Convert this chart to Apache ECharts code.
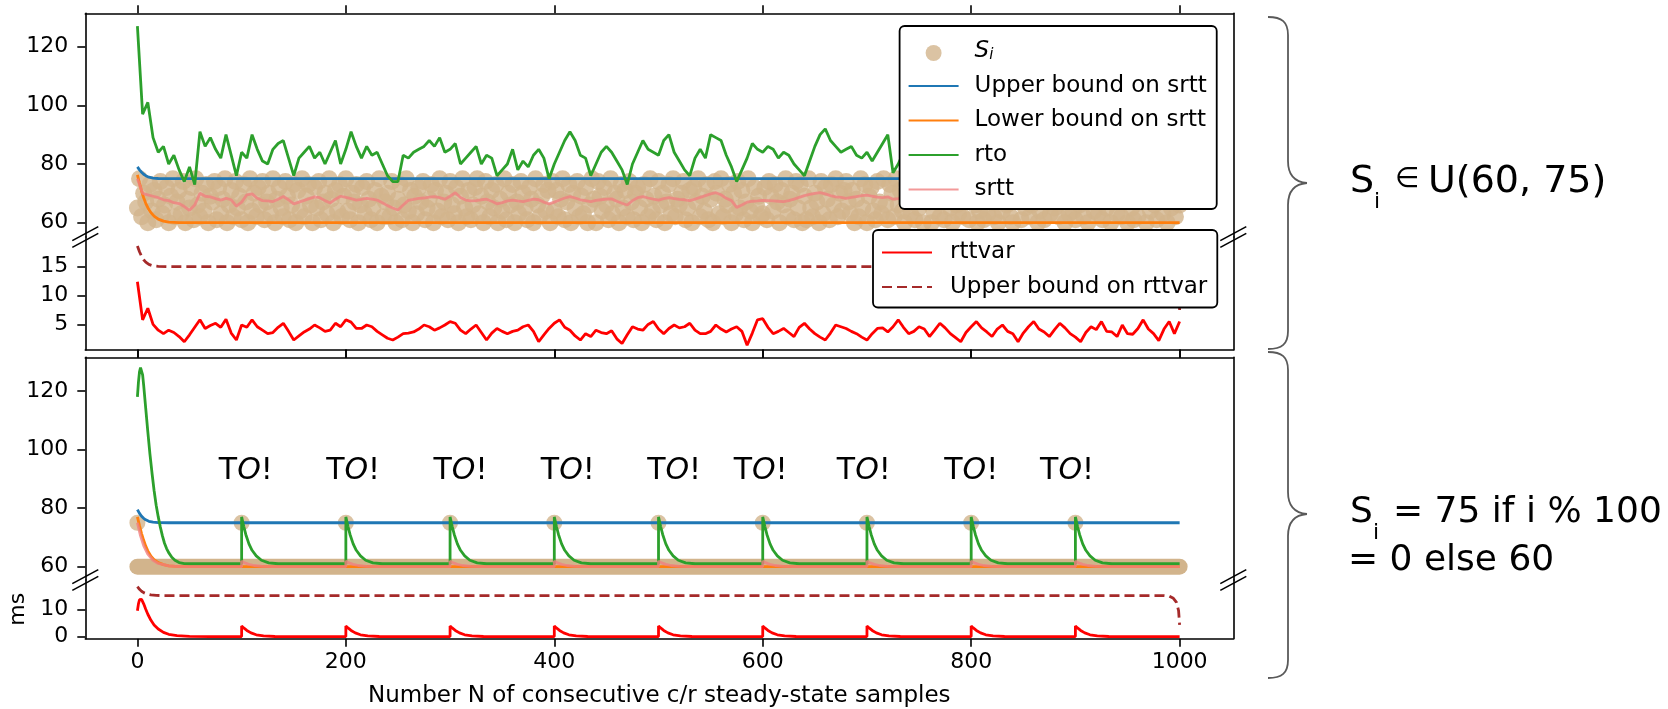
<!DOCTYPE html>
<html>
<head>
<meta charset="utf-8">
<script src="https://cdn.jsdelivr.net/npm/echarts@6.0.0/dist/echarts.min.js"></script>
<style>
html, body { margin: 0; padding: 0; background: #fff; }
#chart { width: 1668px; height: 709px; }
</style>
</head>
<body>
<div id="chart"></div>
<script>
// x ticks shared by every panel
var xTicks = [0, 200, 400, 600, 800, 1000];

// ---- top panel: S_i uniform in (60, 75) ----
var stepTop = 5; // rto / srtt / rttvar sampled every 5 samples
var rtoTop = [
  127, 97, 101, 89, 84, 86, 80, 83, 78, 74,
  79, 73, 91, 86, 89, 85, 82, 90, 83, 76,
  84, 82, 90, 85, 81, 80, 85, 87, 88, 82,
  76, 82, 84, 86, 82, 84, 80, 84, 88, 80,
  85, 91, 86, 82, 86, 83, 84, 80, 76, 74,
  74, 83, 82, 84, 85, 86, 88, 86, 89, 84,
  85, 87, 80, 82, 84, 86, 80, 83, 82, 76,
  78, 80, 85, 78, 81, 79, 83, 85, 82, 75,
  80, 84, 88, 91, 88, 83, 82, 76, 80, 84,
  86, 84, 81, 78, 73, 80, 84, 88, 85, 84,
  83, 88, 90, 84, 81, 78, 76, 82, 85, 82,
  90, 89, 88, 83, 79, 74, 78, 82, 87, 85,
  84, 86, 85, 82, 84, 83, 80, 78, 76, 81,
  86, 90, 92, 88, 86, 84, 85, 86, 83, 82,
  84, 81, 84, 87, 90, 77, 80, 84, 88, 86,
  82, 85, 90, 87, 83, 80, 78, 84, 86, 89,
  85, 82, 80, 76, 81, 85, 88, 86, 84, 82,
  85, 87, 83, 79, 82, 86, 90, 88, 84, 81,
  78, 83, 86, 85, 82, 80, 84, 88, 86, 83,
  80, 77, 82, 85, 88, 84, 81, 86, 84, 80,
  83
];
var srttTop = [
  75, 70, 69.5, 69, 68.5, 67.8, 67.5, 66.8, 66.5, 65.5,
  64.2, 66, 70, 69, 68.8, 68.2, 67.7, 68.3, 67.8, 65.6,
  67, 69.5, 69.8, 68.3, 67.5, 67.4, 67.2, 68, 68.9, 67.8,
  66.4, 67, 67.6, 68.2, 68.8, 68.5, 67.5, 66.7, 68, 69,
  68.6, 68.2, 67.7, 67.9, 68.3, 68, 67.7, 66.8, 65.8, 65,
  64.3, 66, 67.6, 67.9, 68.3, 68.4, 68.7, 68.9, 68.5, 68,
  69, 70.2, 68.6, 67.7, 67.4, 67.5, 67.8, 68, 67.3, 66.4,
  66.8, 67.4, 67.7, 67.4, 67.2, 67.6, 68, 67.8, 67, 66.4,
  67, 67.7, 68.4, 68.9, 68.4, 67.8, 67.5, 67.2, 67.6, 67.8,
  68, 68.1, 67.3, 66.6, 66, 67.5, 68.5, 68.9, 68.4, 68,
  67.7, 68.2, 68.5, 68.2, 67.9, 67.8, 67.5, 68, 68.6, 69.2,
  69.8, 70.2, 69.5, 68.3, 67.5, 65.2, 66, 67, 67.3, 67.4,
  67.6, 67.5, 67.4, 67.3, 67.2, 67.5, 68, 68.6, 69.2, 69.6,
  70, 70.2, 69.8, 69.2, 68.8, 68.6, 68.3, 68.6, 68.9, 69.2,
  69.4, 69, 68.7, 68.5, 68.8, 68, 68.2, 68.5, 69, 68.7,
  68.2, 68.4, 69.1, 69.3, 68.8, 68, 67.5, 67.9, 68.3, 68.8,
  68.6, 68, 67.6, 67, 67.4, 68, 68.6, 68.4, 68.1, 67.8,
  68.2, 68.6, 68.2, 67.6, 67.8, 68.4, 69.2, 69, 68.5, 67.9,
  67.4, 67.8, 68.3, 68.2, 67.8, 67.5, 68, 68.7, 68.5, 68,
  67.6, 67, 67.6, 68.2, 68.7, 68.3, 67.9, 68.4, 68.3, 67.8,
  67.9
];
var rttvarTop = [
  12.4, 5.8, 7.8, 5, 4, 3.4, 4, 3.6, 2.9, 2,
  3.2, 4.5, 5.8, 4.3, 4.8, 5.2, 4.5, 5.9, 3.5, 2.3,
  4.9, 4.5, 5.8, 4.6, 4, 3.4, 3.6, 4.5, 5.2, 3.8,
  2.3, 3, 3.7, 4.2, 4.9, 4.4, 3.8, 4, 5.2, 4.6,
  5.8, 5.4, 4.3, 4.3, 4.9, 4.6, 3.8, 3.2, 2.6, 2.3,
  2.8, 3.4, 3.5, 3.7, 4.2, 4.9, 4.6, 4, 4.4, 4.9,
  5.5, 5.2, 4, 3.4, 4.2, 4.9, 3.6, 2.3, 3.5, 4.3,
  3.8, 3.4, 3.8, 4, 4.6, 4.9, 3.8, 2, 3.2, 4.3,
  5.2, 5.8, 4.5, 4, 3, 2.3, 3.4, 2.9, 4, 3.6,
  3.4, 3.9, 2.5, 1.7, 3.2, 4.6, 4.2, 4, 5, 5.5,
  4.2, 3.4, 4.3, 4.9, 4.4, 4.6, 5.2, 4, 3.4, 3.4,
  3.8, 4.9, 4.2, 3.7, 4.2, 4.6, 3.8, 1.4, 3.5, 5.8,
  6, 4.5, 3.4, 3.8, 4.3, 3.6, 2.9, 4.5, 5.2, 4.2,
  3.4, 2.8, 2.3, 3.5, 4.9, 4.6, 4.3, 3.8, 3.4, 2.8,
  2.3, 3.4, 4.3, 4.4, 3.7, 4.6, 5.8, 4.5, 3.4, 3.8,
  4.6, 4.2, 2.9, 4, 5.2, 4.4, 3.4, 2.7, 2, 3.6,
  4.6, 5.5, 4.4, 3.7, 2.9, 4.2, 4.9, 3.8, 3.4, 2,
  3.5, 4.6, 5.5, 4.2, 3.7, 2.9, 4.1, 5.2, 4.4, 3.4,
  2.8, 2, 3.6, 4.6, 4.1, 5.5, 3.8, 3.7, 2.9, 4.9,
  3.4, 3.3, 4.3, 5.8, 4.2, 3.4, 2.2, 4.2, 5.5, 3.4,
  5.5
];
var stepSi = 2; // S_i samples drawn every 2 samples
var siTop = [
  65,75,62,70,67,60,73,64,71,61,68,74,63,66,72,60,69,75,62,67,
  71,63,74,60,68,65,72,61,75,66,62,70,64,73,60,69,67,74,61,72,
  63,68,75,60,66,71,62,74,65,69,61,73,67,60,75,64,70,62,72,66,
  74,61,67,70,63,75,60,68,72,65,62,74,69,61,66,73,60,71,64,75,
  62,69,73,66,60,72,65,74,61,67,70,63,75,68,60,71,64,73,62,69,
  75,64,61,70,67,73,60,66,72,63,74,68,61,65,71,60,75,69,62,67,
  70,62,74,65,60,68,73,61,66,75,64,71,60,69,63,72,67,74,61,65,
  68,73,60,71,64,75,62,67,70,61,74,66,63,72,60,69,75,65,62,71,
  61,66,72,75,63,69,60,74,67,62,71,65,73,60,68,64,75,61,70,66,
  73,60,67,63,74,70,65,61,72,68,60,75,66,62,69,73,64,71,60,74,
  64,71,62,68,75,61,67,73,60,70,65,74,62,69,63,72,60,66,75,68,
  60,74,69,64,72,66,61,75,63,70,68,60,73,65,71,62,74,67,61,70,
  72,65,60,73,68,62,75,64,69,61,74,66,70,60,67,73,63,75,62,68,
  66,70,74,61,65,71,60,72,67,75,62,69,64,73,61,68,60,74,70,63,
  75,62,68,66,73,60,70,63,74,65,71,61,67,75,64,60,72,66,69,62,
  63,72,61,74,69,64,73,67,60,71,66,75,62,68,70,61,74,65,73,60,
  69,61,75,65,62,70,67,60,74,63,72,68,61,73,66,75,62,70,64,71,
  74,67,63,71,60,68,62,75,65,73,60,69,72,64,61,74,67,63,75,66,
  61,73,70,62,75,66,71,64,60,68,74,63,70,61,72,65,75,60,67,73,
  67,60,64,75,70,62,74,61,69,72,65,60,73,66,63,71,62,75,68,61,
  72,75,66,60,64,73,61,70,63,75,67,62,74,60,69,64,71,66,73,62,
  60,68,73,67,61,74,65,72,62,66,75,70,60,64,73,61,68,74,63,70,
  65,71,62,74,68,60,75,63,71,64,61,73,66,75,62,70,60,67,72,64,
  73,63,69,61,72,65,70,60,74,67,63,71,62,68,75,60,73,65,61,69,
  62,74,67,70,60,71,64,73,66,61,75,68,63,72,60,74,65,70,62,67,
  66
];
var ubSrttTop = [[0,79],[2,78],[4,77.2],[6,76.5],[8,76],[11,75.5],[15,75.2],[20,75.05],[30,75],[1000,75]];
var lbSrttTop = [[0,76.3],[2,73.5],[4,70.8],[6,68.5],[8,66.6],[10,65.1],[13,63.4],[16,62.2],[20,61.2],[25,60.5],[30,60.2],[40,60],[1000,60]];
var ubRttvarTop = [[0,18.6],[2,17.6],[4,16.8],[6,16.2],[8,15.8],[11,15.4],[15,15.15],[20,15.05],[30,15],[985,15],[990,14.8],[994,14],[997,12.5],[999,10],[1000,7.5]];

// ---- bottom panel: S_i = 75 if i % 100 == 0 else 60 ----
var siBand = [[0, 60], [1000, 60]];
var siPeaks = [[0,75],[100,75],[200,75],[300,75],[400,75],[500,75],[600,75],[700,75],[800,75],[900,75]];
var ubSrttBottom = [[0,79.5],[2,78.2],[4,77.2],[6,76.5],[8,76],[11,75.5],[15,75.2],[20,75.05],[30,75],[1000,75]];
var lbSrttBottom = [[0,77],[2,74],[4,71.3],[6,69],[8,67],[10,65.4],[13,63.6],[16,62.4],[20,61.4],[25,60.7],[30,60.3],[40,60.05],[1000,60]];
var rtoBottom = [
  [0,118],[1,123],[2,126.5],[3,128],[4,127.5],[5,125.5],[6,122],[8,114],[10,106],[12,98.5],[14,92],[16,86],[18,81],[20,77],
  [22,73.5],[24,70.5],[26,68],[28,66.2],[30,64.8],[33,63.2],[36,62.2],[40,61.4],[45,61.05],[50,61],
  [100,61],[100,77],[102,73.8],[104,71],[107,67.8],[110,65.6],[114,63.7],[119,62.2],[126,61.3],[135,61],
  [200,61],[200,77],[202,73.8],[204,71],[207,67.8],[210,65.6],[214,63.7],[219,62.2],[226,61.3],[235,61],
  [300,61],[300,77],[302,73.8],[304,71],[307,67.8],[310,65.6],[314,63.7],[319,62.2],[326,61.3],[335,61],
  [400,61],[400,77],[402,73.8],[404,71],[407,67.8],[410,65.6],[414,63.7],[419,62.2],[426,61.3],[435,61],
  [500,61],[500,77],[502,73.8],[504,71],[507,67.8],[510,65.6],[514,63.7],[519,62.2],[526,61.3],[535,61],
  [600,61],[600,77],[602,73.8],[604,71],[607,67.8],[610,65.6],[614,63.7],[619,62.2],[626,61.3],[635,61],
  [700,61],[700,77],[702,73.8],[704,71],[707,67.8],[710,65.6],[714,63.7],[719,62.2],[726,61.3],[735,61],
  [800,61],[800,77],[802,73.8],[804,71],[807,67.8],[810,65.6],[814,63.7],[819,62.2],[826,61.3],[835,61],
  [900,61],[900,77],[902,73.8],[904,71],[907,67.8],[910,65.6],[914,63.7],[919,62.2],[926,61.3],[935,61],
  [1000,61]
];
var srttBottom = [
  [0,75],[3,70.5],[6,67.2],[10,64.3],[15,62.2],[20,61.1],[30,60.3],[40,60.05],[50,60],
  [100,60],[100,61.9],[103,61.3],[107,60.8],[112,60.4],[120,60.1],[130,60],
  [200,60],[200,61.9],[203,61.3],[207,60.8],[212,60.4],[220,60.1],[230,60],
  [300,60],[300,61.9],[303,61.3],[307,60.8],[312,60.4],[320,60.1],[330,60],
  [400,60],[400,61.9],[403,61.3],[407,60.8],[412,60.4],[420,60.1],[430,60],
  [500,60],[500,61.9],[503,61.3],[507,60.8],[512,60.4],[520,60.1],[530,60],
  [600,60],[600,61.9],[603,61.3],[607,60.8],[612,60.4],[620,60.1],[630,60],
  [700,60],[700,61.9],[703,61.3],[707,60.8],[712,60.4],[720,60.1],[730,60],
  [800,60],[800,61.9],[803,61.3],[807,60.8],[812,60.4],[820,60.1],[830,60],
  [900,60],[900,61.9],[903,61.3],[907,60.8],[912,60.4],[920,60.1],[930,60],
  [1000,60]
];
var rttvarBottom = [
  [0,9.5],[1,12],[2,13.5],[3,14],[4,13.6],[6,12],[8,10],[10,8.2],[13,6],[16,4.3],[20,2.8],[25,1.6],[30,0.9],[38,0.4],[50,0.12],[70,0.05],
  [100,0.05],[100,3.9],[102,3.2],[105,2.3],[109,1.4],[114,0.7],[121,0.3],[132,0.08],
  [200,0.05],[200,3.9],[202,3.2],[205,2.3],[209,1.4],[214,0.7],[221,0.3],[232,0.08],
  [300,0.05],[300,3.9],[302,3.2],[305,2.3],[309,1.4],[314,0.7],[321,0.3],[332,0.08],
  [400,0.05],[400,3.9],[402,3.2],[405,2.3],[409,1.4],[414,0.7],[421,0.3],[432,0.08],
  [500,0.05],[500,3.9],[502,3.2],[505,2.3],[509,1.4],[514,0.7],[521,0.3],[532,0.08],
  [600,0.05],[600,3.9],[602,3.2],[605,2.3],[609,1.4],[614,0.7],[621,0.3],[632,0.08],
  [700,0.05],[700,3.9],[702,3.2],[705,2.3],[709,1.4],[714,0.7],[721,0.3],[732,0.08],
  [800,0.05],[800,3.9],[802,3.2],[805,2.3],[809,1.4],[814,0.7],[821,0.3],[832,0.08],
  [900,0.05],[900,3.9],[902,3.2],[905,2.3],[909,1.4],[914,0.7],[921,0.3],[932,0.08],
  [1000,0.05]
];
var ubRttvarBottom = [[0,18.3],[2,17.3],[4,16.6],[6,16.1],[9,15.6],[13,15.25],[18,15.08],[25,15],[985,15],[990,14.8],[994,14],[997,12.5],[999,9.5],[1000,4.3]];
// where the "TO!" notes sit
var toX = [104, 207, 310, 413, 515, 598, 697, 800, 892];
var toY = 92.5;

function bySteps(values, step) {
  return values.map(function (v, i) { return [i * step, v]; });
}

var FONT = 'DejaVu Sans';
var black = { color: '#000', width: 1.6 };
var tan = '#d2b48c';
var LW = 2.8;

function xAx(grid, pos, withLabels) {
  return {
    type: 'value', gridIndex: grid, min: -50, max: 1051.5, position: pos,
    axisLine: { show: true, onZero: false, lineStyle: black },
    axisTick: { show: true, length: 8, customValues: xTicks, lineStyle: black },
    axisLabel: { show: withLabels, customValues: xTicks, margin: 13, fontSize: 22, color: '#000', fontFamily: FONT,
      formatter: function (v) { return String(v); } },
    splitLine: { show: false },
    name: withLabels ? 'Number N of consecutive c/r steady-state samples' : '',
    nameLocation: 'middle', nameGap: 46,
    nameTextStyle: { fontSize: 23, color: '#000', fontFamily: FONT }
  };
}
function yLeft(grid, min, max, ticks, name) {
  return {
    type: 'value', gridIndex: grid, min: min, max: max, position: 'left',
    axisLine: { show: true, onZero: false, lineStyle: black },
    axisTick: { show: true, length: 8, customValues: ticks, lineStyle: black },
    axisLabel: { customValues: ticks, margin: 17, fontSize: 22, color: '#000', fontFamily: FONT },
    splitLine: { show: false },
    name: name || '', nameLocation: 'middle', nameGap: 56, nameRotate: 90,
    nameTextStyle: { fontSize: 22, color: '#000', fontFamily: FONT }
  };
}
function yRight(grid, min, max) {
  return {
    type: 'value', gridIndex: grid, min: min, max: max, position: 'right',
    axisLine: { show: true, onZero: false, lineStyle: black },
    axisTick: { show: false }, axisLabel: { show: false }, splitLine: { show: false }
  };
}
function line(name, data, xi, yi, color, extra) {
  var s = {
    name: name, type: 'line', xAxisIndex: xi, yAxisIndex: yi, data: data,
    symbol: 'none', lineStyle: { color: color, width: LW }, itemStyle: { color: color },
    z: 3
  };
  return Object.assign(s, extra || {});
}

function breakMark(cx, cy) {
  return [-3.4, 3.4].map(function (d) {
    return {
      type: 'line', z: 100,
      shape: { x1: cx - 13, y1: cy + 7 + d, x2: cx + 13, y2: cy - 7 + d },
      style: { stroke: '#000', lineWidth: 1.6 }
    };
  });
}
var braceStyle = { fill: null, stroke: '#5a5a5a', lineWidth: 1.8 };
function curve(x1, y1, c1x, c1y, c2x, c2y, x2, y2) {
  return { type: 'bezierCurve', shape: { x1: x1, y1: y1, cpx1: c1x, cpy1: c1y, cpx2: c2x, cpy2: c2y, x2: x2, y2: y2 }, style: braceStyle };
}
function seg(x1, y1, x2, y2) {
  return { type: 'line', shape: { x1: x1, y1: y1, x2: x2, y2: y2 }, style: braceStyle };
}
function brace(y0, ym, y1) {
  return [
    curve(1268, y0, 1282, y0, 1288, y0 + 5, 1288, y0 + 18),
    seg(1288, y0 + 18, 1288, ym - 22),
    curve(1288, ym - 22, 1288, ym - 8, 1294, ym - 1, 1307, ym),
    curve(1307, ym, 1294, ym + 1, 1288, ym + 8, 1288, ym + 22),
    seg(1288, ym + 22, 1288, y1 - 18),
    curve(1288, y1 - 18, 1288, y1 - 5, 1282, y1, 1268, y1)
  ];
}
function txt(s, x, y, size) {
  return { type: 'text', x: x, y: y, style: { text: s, font: size + 'px "' + FONT + '"', fill: '#000', verticalAlign: 'middle' } };
}

var chart = echarts.init(document.getElementById('chart'));
var legendText = {
  fontFamily: FONT, fontSize: 23, color: '#000', lineHeight: 20,
  rich: {
    it: { fontFamily: FONT, fontSize: 23, fontStyle: 'italic', lineHeight: 20, verticalAlign: 'bottom' },
    sub: { fontFamily: FONT, fontSize: 15, fontStyle: 'italic', lineHeight: 6, verticalAlign: 'bottom' }
  }
};
// line items: hide the marker ECharts puts in the middle of a line icon
function lineItem(n) { return { name: n, itemStyle: { opacity: 0 } }; }

// grids sit exactly where the reference axes are; no automatic shrinking
function grid(top, height) {
  return { left: 85.3, width: 1148, top: top, height: height, containLabel: false, outerBoundsMode: 'none' };
}

var option = {
  animation: false,
  backgroundColor: '#fff',
  grid: [grid(13.3, 223.7), grid(237, 113), grid(357.3, 222.7), grid(580, 58.7)],
  xAxis: [xAx(0, 'top', false), xAx(1, 'bottom', false), xAx(2, 'top', false), xAx(3, 'bottom', true)],
  yAxis: [
    yLeft(0, 55.1, 131.4, [60, 80, 100, 120]), yRight(0, 55.1, 131.4),
    yLeft(1, 0.57, 20.15, [5, 10, 15]), yRight(1, 0.57, 20.15),
    yLeft(2, 55.45, 131.5, [60, 80, 100, 120]), yRight(2, 55.45, 131.5),
    yLeft(3, -0.72, 20.7, [0, 10], 'ms'), yRight(3, -0.72, 20.7)
  ],
  legend: [
    {
      left: 899.6, top: 26, orient: 'vertical', selectedMode: false,
      data: [{ name: 'S_i', icon: 'circle' }, lineItem('Upper bound on srtt'), lineItem('Lower bound on srtt'), lineItem('rto'), lineItem('srtt')],
      itemWidth: 50, itemHeight: 16, itemGap: 11.5, padding: [14, 10, 8, 8],
      backgroundColor: '#fff', borderColor: '#000', borderWidth: 1.8, borderRadius: 5,
      textStyle: Object.assign({ padding: [0, 0, 0, 11] }, legendText),
      formatter: function (n) { return n === 'S_i' ? '{it|S}{sub|i}' : n; }
    },
    {
      left: 873, top: 230, orient: 'vertical', selectedMode: false,
      data: [lineItem('rttvar'), lineItem('Upper bound on rttvar')],
      itemWidth: 50, itemHeight: 16, itemGap: 11.5, padding: [11, 10, 9, 8],
      backgroundColor: '#fff', borderColor: '#000', borderWidth: 1.8, borderRadius: 5,
      textStyle: Object.assign({ padding: [0, 0, 0, 13] }, legendText)
    }
  ],
  series: [
    { name: 'S_i', type: 'scatter', xAxisIndex: 0, yAxisIndex: 0, data: bySteps(siTop, stepSi),
      symbolSize: 17, itemStyle: { color: tan }, z: 1 },
    line('Upper bound on srtt', ubSrttTop, 0, 0, '#1f77b4'),
    line('Lower bound on srtt', lbSrttTop, 0, 0, '#ff7f0e'),
    line('rto', bySteps(rtoTop, stepTop), 0, 0, '#2ca02c'),
    line('srtt', bySteps(srttTop, stepTop), 0, 0, '#f08080', { lineStyle: { color: '#f08080', width: LW, opacity: 0.8 } }),

    line('rttvar', bySteps(rttvarTop, stepTop), 1, 2, '#ff0000'),
    line('Upper bound on rttvar', ubRttvarTop, 1, 2, '#a52a2a', { lineStyle: { color: '#a52a2a', width: LW, type: [10, 5] } }),

    line('S_i (60)', siBand, 2, 4, tan, { lineStyle: { color: tan, width: 16, cap: 'round' }, z: 1 }),
    { name: 'S_i (75)', type: 'scatter', xAxisIndex: 2, yAxisIndex: 4, data: siPeaks,
      symbolSize: 16, itemStyle: { color: tan }, z: 1 },
    line('Upper bound on srtt ', ubSrttBottom, 2, 4, '#1f77b4'),
    line('Lower bound on srtt ', lbSrttBottom, 2, 4, '#ff7f0e'),
    line('rto ', rtoBottom, 2, 4, '#2ca02c'),
    line('srtt ', srttBottom, 2, 4, '#f08080', { lineStyle: { color: '#f08080', width: LW, opacity: 0.8 } }),
    { name: 'TO!', type: 'scatter', xAxisIndex: 2, yAxisIndex: 4,
      data: toX.map(function (x) { return [x, toY]; }),
      symbolSize: 2, itemStyle: { color: '#fff', opacity: 0 }, z: 5,
      label: { show: true, position: 'top', distance: -16, formatter: 'T{o|O}!', fontSize: 30, color: '#000',
        fontFamily: FONT, opacity: 1, textBorderWidth: 0,
        rich: { o: { fontSize: 30, fontStyle: 'italic', color: '#000', fontFamily: FONT, textBorderWidth: 0 } } } },

    line('rttvar ', rttvarBottom, 3, 6, '#ff0000'),
    line('Upper bound on rttvar ', ubRttvarBottom, 3, 6, '#a52a2a', { lineStyle: { color: '#a52a2a', width: LW, type: [10, 5] } })
  ],
  graphic: [].concat(
    breakMark(85.3, 237), breakMark(1233.3, 237), breakMark(85.3, 580), breakMark(1233.3, 580),
    brace(17, 183, 349), brace(352, 514, 678),
    [
      txt('S', 1350, 182, 38), txt('i', 1374, 202, 22), txt('\u2208', 1395, 180, 28), txt('U(60, 75)', 1428, 182, 38),
      txt('S', 1350, 513, 36), txt('i', 1373, 533, 22), txt('= 75 if i % 100', 1393, 513, 36),
      txt('= 0 else 60', 1348, 561, 36)
    ]
  )
};
chart.setOption(option);
</script>
</body>
</html>
